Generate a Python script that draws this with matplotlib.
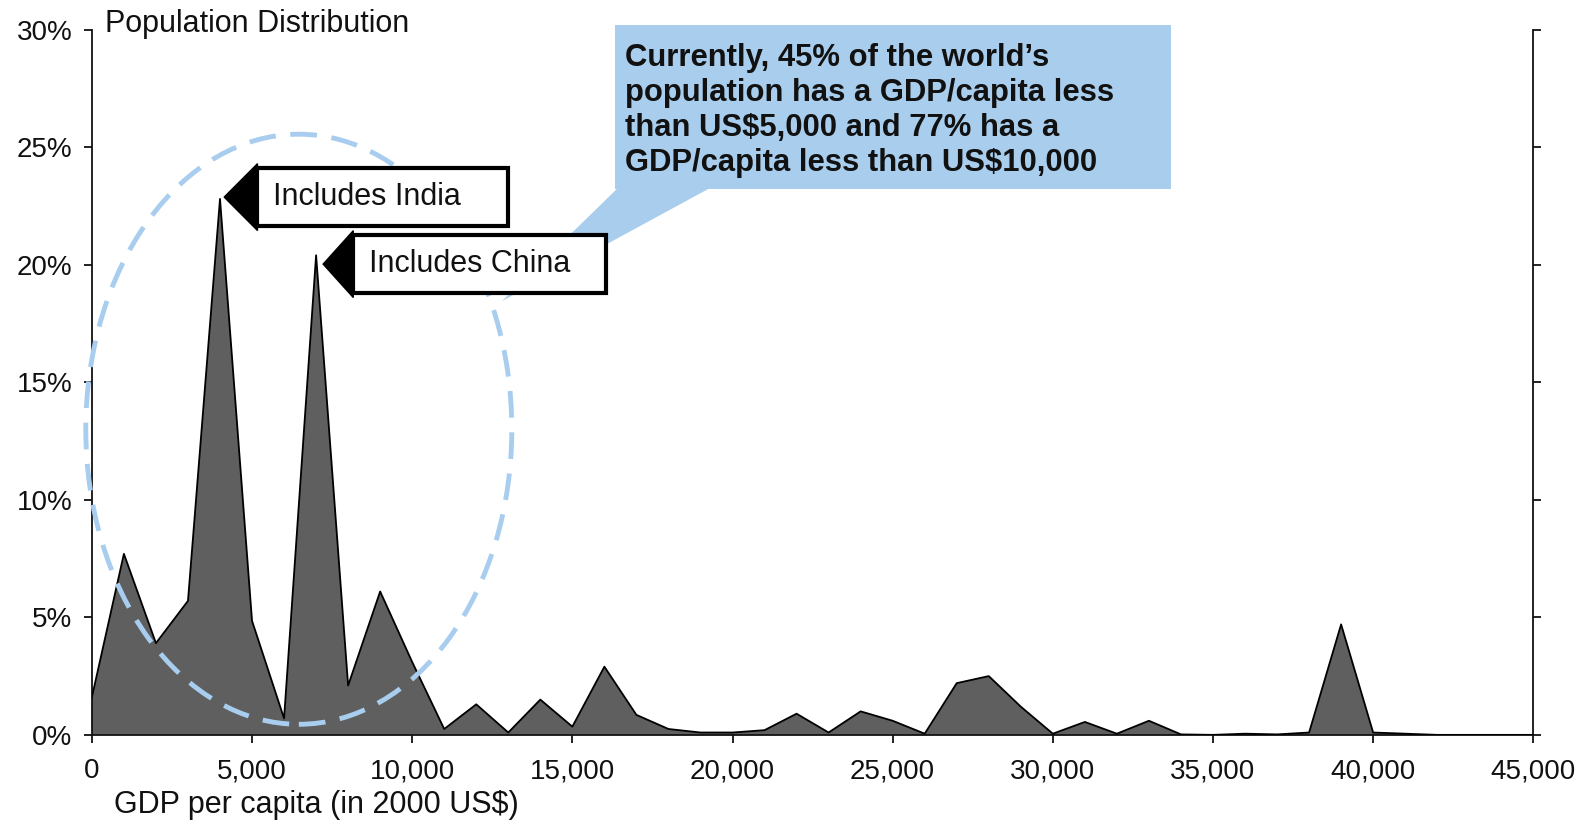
import numpy as np
import matplotlib.pyplot as plt
from matplotlib.patches import Rectangle, Polygon, Ellipse

plt.rcParams['font.family'] = ['Liberation Sans', 'DejaVu Sans']

# population share (%) by GDP per capita bucket (2000 US$)
gdp = list(range(0, 46000, 1000))
share = [1.6, 7.7, 3.9, 5.7, 22.8, 4.85, 0.7, 20.4, 2.1, 6.1,
         3.1, 0.25, 1.3, 0.1, 1.5, 0.35, 2.9, 0.85, 0.25, 0.1,
         0.1, 0.2, 0.9, 0.1, 1.0, 0.6, 0.05, 2.2, 2.5, 1.2,
         0.05, 0.55, 0.05, 0.6, 0.02, 0.0, 0.05, 0.02, 0.1, 4.7,
         0.1, 0.05, 0.0, 0.0, 0.0, 0.0]

x_ticks = list(range(0, 50000, 5000))
y_ticks = [0, 5, 10, 15, 20, 25, 30]

callout = ("Currently, 45% of the world\u2019s\n"
           "population has a GDP/capita less\n"
           "than US$5,000 and 77% has a\n"
           "GDP/capita less than US$10,000")

fig = plt.figure(figsize=(15.84, 8.22), dpi=100)
ax = fig.add_axes([0.058, 0.106, 0.910, 0.858])

ax.fill_between(gdp, share, 0, color='#5f5f5f', edgecolor='none', zorder=2)
ax.plot(gdp, share, color='black', lw=1.3, zorder=3)

ax.set_xlim(0, 45000)
ax.set_ylim(0, 30)
ax.set_xticks(x_ticks)
ax.set_xticklabels([f"{v:,}" for v in x_ticks])
ax.set_yticks(y_ticks)
ax.set_yticklabels([f"{v}%" for v in y_ticks])
ax.tick_params(axis='both', direction='out', length=6, width=1.3,
               labelsize=20, colors='#111111')
ax.tick_params(axis='y', right=True, pad=8)
ax.tick_params(axis='x', pad=11)
ax.spines['top'].set_visible(False)
for s in ['left', 'right', 'bottom']:
    ax.spines[s].set_linewidth(1.3)
    ax.spines[s].set_color('#111111')

# dashed ring round the low-income peaks
ring = Ellipse((6460, 13.0), 13300, 25.1, fill=False, edgecolor='#a8cdee',
               lw=3.5, ls=(0, (5.5, 3)), zorder=4, clip_on=False)
ax.add_patch(ring)

# blue callout with its tail
tail = Polygon([(16450, 23.3), (19350, 23.3), (12800, 18.45)], closed=True,
               facecolor='#a9cdec', edgecolor='none', zorder=5)
ax.add_patch(tail)
box = Rectangle((16330, 23.2), 17360, 7.0, facecolor='#a9cdec',
                edgecolor='none', zorder=5, clip_on=False)
ax.add_patch(box)
ax.text(16630, 26.55, callout, fontsize=22.3, fontweight='bold', color='#111111',
        va='center', ha='left', linespacing=1.22, zorder=6)


def tag(x0, x1, y0, y1, tip, label):
    ax.add_patch(Rectangle((x0, y0), x1 - x0, y1 - y0, facecolor='white',
                           edgecolor='black', lw=3, zorder=7))
    ym = (y0 + y1) / 2
    pad = (y1 - y0) * 0.08
    ax.add_patch(Polygon([(tip, ym), (x0, y1 + pad), (x0, y0 - pad)],
                         closed=True, facecolor='black', edgecolor='black',
                         lw=1, zorder=8))
    ax.text(x0 + 480, ym, label, fontsize=22, color='#111111',
            va='center', ha='left', zorder=9)


tag(5170, 12990, 21.65, 24.1, 4130, "Includes India")
tag(8160, 16040, 18.8, 21.25, 7220, "Includes China")

fig.text(105 / 1584, 1 - 24 / 822, "Population Distribution", fontsize=22,
         color='#111111', ha='left', va='center')
fig.text(114 / 1584, 1 - 805 / 822, "GDP per capita (in 2000 US$)", fontsize=22,
         color='#111111', ha='left', va='center')

fig.savefig('out.png', dpi=100)
